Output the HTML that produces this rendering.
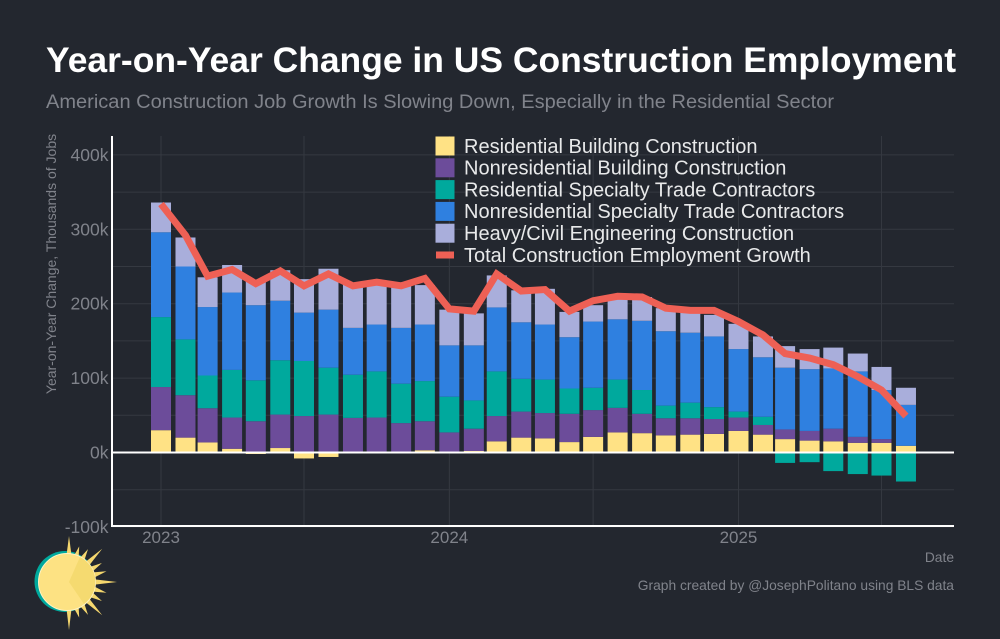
<!DOCTYPE html>
<html lang="en">
<head>
<meta charset="utf-8">
<title>Year-on-Year Change in US Construction Employment</title>
<style>
html,body{margin:0;padding:0;background:#23272f;}
svg{display:block;font-family:"Liberation Sans",Arial,sans-serif;}
</style>
</head>
<body>
<svg id="chart" xmlns="http://www.w3.org/2000/svg" width="1000" height="639" viewBox="0 0 1000 639">
  <rect x="0" y="0" width="1000" height="639" fill="#23272f"/>
  <g id="grid"></g>
  <g id="bars"></g>
  <polyline id="total-line" fill="none" stroke="#ee6055" stroke-width="7" stroke-linejoin="miter"/>
  <g id="axes"></g>
  <text x="46" y="72" font-size="35" font-weight="700" fill="#ffffff" textLength="910" lengthAdjust="spacingAndGlyphs">Year-on-Year Change in US Construction Employment</text>
  <text x="46" y="108" font-size="19" fill="#80838b" textLength="788" lengthAdjust="spacingAndGlyphs">American Construction Job Growth Is Slowing Down, Especially in the Residential Sector</text>
  <text transform="translate(56,264) rotate(-90)" text-anchor="middle" font-size="14" fill="#80838b">Year-on-Year Change, Thousands of Jobs</text>
  <text x="954" y="562" text-anchor="end" font-size="13.8" fill="#80838b">Date</text>
  <text x="954" y="590" text-anchor="end" font-size="13.8" fill="#80838b">Graph created by @JosephPolitano using BLS data</text>
  <g id="legend"></g>
  <g id="logo">
    <circle cx="65" cy="581.5" r="30.5" fill="#00a99d"/>
    <g id="logo-rays"></g>
    <circle cx="67" cy="582" r="28.5" fill="#fde283" stroke="#fff3c4" stroke-width="1"/>
    <path d="M69 582 L80 557 A27.5 27.5 0 0 1 84 604 Z" fill="#f5da70"/>
  </g>
</svg>
<script>
// Data, thousands of jobs, Jan 2023 - Aug 2025
var categories = ["2023-01","2023-02","2023-03","2023-04","2023-05","2023-06","2023-07","2023-08","2023-09","2023-10","2023-11","2023-12","2024-01","2024-02","2024-03","2024-04","2024-05","2024-06","2024-07","2024-08","2024-09","2024-10","2024-11","2024-12","2025-01","2025-02","2025-03","2025-04","2025-05","2025-06","2025-07","2025-08"];
var residentialBuilding = [30,20,13.5,5,-2,6,-8,-6,0.5,1,0.5,3,-0.5,2,15,20,19,14,21,27,26,23,24,25,29,24,18,16,15,13,13,9];
var nonresidentialBuilding = [58,57,46,42,42,45,49,51,46,46,39,39,27,30,34,35,34,38,36,33,26,23,22,20,18,13,13,13,17,8,5,0];
var residentialSpecialty = [94,75,44,64,55,73,74,63,58,62,53,54,48,38,60,44,45,34,30,38,32,17,21,16,8,11,-14,-13,-25,-29,-31,-39];
var nonresidentialSpecialty = [114,98,92,104,101,80,65,78,63,63,75,76,69,74,86,76,74,69,89,81,93,100,94,95,84,80,83,83,81,88,66,55];
var heavyCivil = [40,39,40,37,32,41,45,55,59,53,57,53,48,43,43,43,48,34,22,30,32,31,28,29,34,28,29,27,28,24,31,23];
var totalGrowth = [334,292,237,246,227,244,224,240,224,229,224,234,193,190,240,217,219,190,204,210,209,194,191,191,176,158,133,127,118,102,84,49];
var yTicks = [-100,0,100,200,300,400];
var yMinorTicks = [-50,50,150,250,350];
var xTickLabels = ["2023","2024","2025"];
var xMinorDates = ["2023-07","2024-07","2025-07"];
var seriesNames = ["Residential Building Construction","Nonresidential Building Construction","Residential Specialty Trade Contractors","Nonresidential Specialty Trade Contractors","Heavy/Civil Engineering Construction"];
var seriesColors = ["#ffe285","#6c4c9a","#00a99d","#2f80e0","#a9aedb"];
var lineName = "Total Construction Employment Growth";

var NS = "http://www.w3.org/2000/svg";
function yScale(v){ return 452.5 - v * 0.744; }
function xScale(ym){
  var parts = String(ym).split("-");
  var ms = Date.UTC(+parts[0], (+parts[1] || 1) - 1, 1);
  return 161 + (ms - Date.UTC(2023,0,1)) / 86400000 * 0.79;
}
function make(tag, attrs, parent, text){
  var el = document.createElementNS(NS, tag);
  for (var k in attrs) el.setAttribute(k, attrs[k]);
  if (text !== undefined) el.textContent = text;
  parent.appendChild(el);
  return el;
}
var grid = document.getElementById("grid");
var axes = document.getElementById("axes");
var barsG = document.getElementById("bars");
var legend = document.getElementById("legend");

yTicks.concat(yMinorTicks).forEach(function(t){
  var l = make("line", {x1:112, x2:954, y1:yScale(t), y2:yScale(t), stroke:"#353941", "stroke-width":1}, grid);
  
  
});
xTickLabels.concat(xMinorDates).forEach(function(t){
  var x = xScale(t);
  var l = make("line", {x1:x, x2:x, y1:136, y2:526, stroke:"#353941", "stroke-width":1}, grid);
  
  
});

var allSeries = [residentialBuilding, nonresidentialBuilding, residentialSpecialty, nonresidentialSpecialty, heavyCivil];
var barWidth = 20;
categories.forEach(function(c, i){
  var up = 0, down = 0, cx = xScale(c);
  allSeries.forEach(function(series, s){
    var v = series[i];
    if (!v) return;
    var a, b;
    if (v >= 0) { a = up; b = up + v; up = b; }
    else { a = down; b = down + v; down = b; }
    var top = yScale(Math.max(a, b));
    var h = Math.abs(yScale(a) - yScale(b));
    var r = make("rect", {x:cx - barWidth / 2, y:top, width:barWidth, height:h, fill:seriesColors[s]}, barsG);
    
    
  });
});

document.getElementById("total-line").setAttribute("points", totalGrowth.map(function(v, i){
  return xScale(categories[i]) + "," + yScale(v);
}).join(" "));

var yAxisLine = make("line", {x1:112, x2:112, y1:136, y2:527, stroke:"#ffffff", "stroke-width":2}, axes);


var xAxisLine = make("line", {x1:111, x2:954, y1:526, y2:526, stroke:"#ffffff", "stroke-width":2}, axes);


var zeroLine = make("line", {x1:112, x2:954, y1:yScale(0), y2:yScale(0), stroke:"#ffffff", "stroke-width":2}, axes);



yTicks.forEach(function(t){
  var lab = make("text", {x:108.5, y:yScale(t) + 6, "text-anchor":"end", "font-size":17.5, fill:"#80838b"}, axes, t + "k");
  
  
});
xTickLabels.forEach(function(t){
  var lab = make("text", {x:xScale(t), y:543, "text-anchor":"middle", "font-size":17, fill:"#80838b"}, axes, t);
  
  
});

var legendTop = 146, legendStep = 21.8;
seriesNames.forEach(function(name, i){
  var y = legendTop + i * legendStep;
  var sw = make("rect", {x:435.5, y:y - 9.5, width:19, height:19, fill:seriesColors[i]}, legend);
  
  
  var tx = make("text", {x:464, y:y + 6.8, "font-size":20, fill:"#e8e9ea"}, legend, name);
  
  
});
var lineY = legendTop + 5 * legendStep;
var lineSwatch = make("rect", {x:436, y:lineY - 3.5, width:18, height:7, fill:"#ee6055"}, legend);


var lineLabel = make("text", {x:464, y:lineY + 6.8, "font-size":20, fill:"#e8e9ea"}, legend, lineName);



// Logo rays: direction (degrees clockwise from up), reach
var rayAngles = [0,16,30,45,60,74,90,106,120,135,150,164,180];
var rayLengths = [46,37,38,47,38,39,48,39,38,47,38,37,48];
var rays = document.getElementById("logo-rays");
rayAngles.forEach(function(a, i){
  var cx = 69, cy = 582, r = a * Math.PI / 180, w = 0.1;
  var pts = [
    [cx + 26 * Math.sin(r - w), cy - 26 * Math.cos(r - w)],
    [cx + rayLengths[i] * Math.sin(r), cy - rayLengths[i] * Math.cos(r)],
    [cx + 26 * Math.sin(r + w), cy - 26 * Math.cos(r + w)]
  ].map(function(p){ return p[0] + "," + p[1]; }).join(" ");
  var ray = make("polygon", {points:pts, fill:"#f5d76e"}, rays);
  
  
});
</script>
</body>
</html>
